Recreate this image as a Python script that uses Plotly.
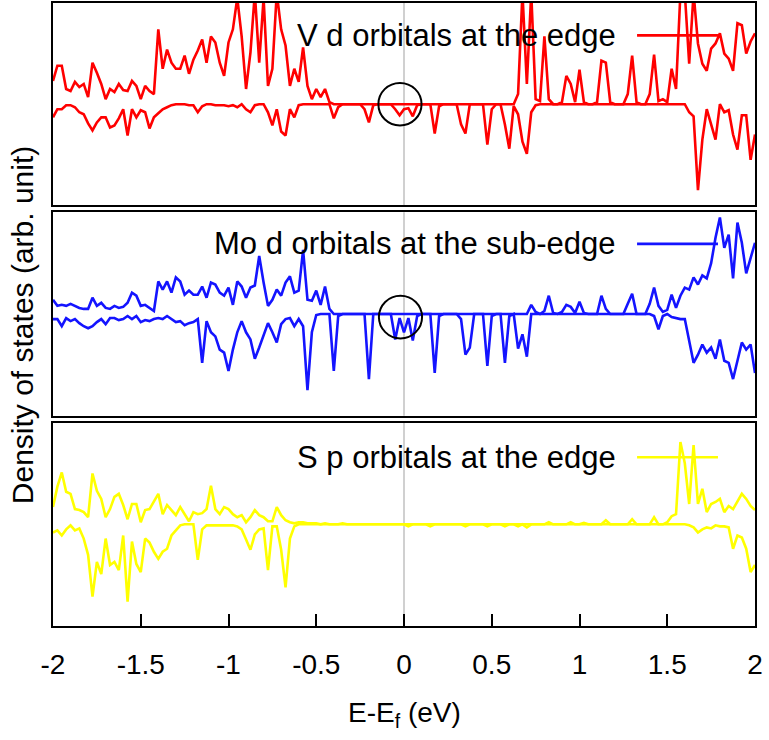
import numpy as np
import plotly.graph_objects as go

# Energy grid (eV), 0.025 eV sampling from -2 to 2
energy = np.round(np.linspace(-2.0, 2.0, 161), 3)

# ---- V d orbitals at the edge (spin up / spin down) ----
v_up = [
    0.23, 0.38, 0.38, 0.15, 0.13, 0.22, 0.17, 0.20, 0.07, 0.41,
    0.31, 0.20, 0.05, 0.15, 0.12, 0.20, 0.14, 0.13, 0.23, 0.18,
    0.05, 0.18, 0.13, 0.10, 0.74, 0.35, 0.54, 0.41, 0.35, 0.35,
    0.48, 0.30, 0.44, 0.53, 0.64, 0.41, 0.67, 0.61, 0.41, 0.28,
    0.61, 0.74, 1.05, 0.67, 0.15, 0.51, 1.10, 0.41, 1.05, 0.18,
    0.35, 1.10, 0.74, 0.58, 0.18, 0.35, 0.22, 0.56, 0.18, 0.05,
    0.15, 0.07, 0.15, 0.02, 0, 0, 0, 0, 0, 0,
    0, 0, 0, 0, 0, 0, 0, 0, 0, 0,
    0, 0, 0, 0, 0, 0, 0, 0, 0, 0,
    0, 0, 0, 0, 0, 0, 0, 0, 0, 0,
    0, 0, 0, 0, 0, 0, 0.10, 1.10, 0.20, 1.10,
    0.05, 0.03, 0.67, 0.05, 0, 0, 0.02, 0.28, 0.20, 0.02,
    0.34, 0.02, 0, 0, 0.02, 0.43, 0.41, 0.02, 0, 0,
    0, 0.10, 0.48, 0.02, 0, 0, 0.10, 0.49, 0.03, 0.05,
    0.02, 0.35, 0.15, 1.10, 1.10, 0.40, 1.10, 0.60, 0.40, 0.33,
    0.55, 0.60, 0.70, 0.50, 0.45, 0.33, 0.80, 0.78, 0.50, 0.62,
    0.70,
]
v_dn = [
    -0.13, -0.05, -0.05, -0.01, -0.01, -0.03, -0.08, -0.10, -0.19, -0.26,
    -0.18, -0.13, -0.13, -0.23, -0.21, -0.14, -0.05, -0.31, -0.05, -0.13,
    -0.06, -0.08, -0.24, -0.13, -0.09, -0.05, -0.03, -0.01, 0, 0,
    0, -0.01, -0.01, -0.08, -0.02, 0, 0, -0.01, -0.01, -0.01,
    -0.02, -0.01, -0.03, 0, -0.05, -0.08, -0.01, 0, 0, -0.08,
    -0.21, -0.05, -0.27, -0.31, -0.05, -0.13, -0.01, 0, 0, 0,
    0, 0, 0, 0, -0.14, -0.03, 0, 0, 0, 0,
    0, -0.05, -0.18, -0.01, 0, 0, 0, 0, -0.05, -0.11,
    -0.05, -0.04, -0.12, -0.01, 0, 0, 0, -0.29, -0.02, 0,
    0, 0, 0, -0.20, -0.29, 0, 0, 0, 0, -0.40,
    -0.05, 0, 0, -0.20, -0.44, -0.02, -0.10, -0.37, -0.49, -0.08,
    -0.01, 0, 0, 0, 0, 0, 0, 0, 0, 0,
    0, 0, 0, 0, 0, 0, 0, 0, 0, 0,
    0, 0, 0, 0, 0, 0, 0, 0, 0, 0,
    0, 0, 0, 0, 0, -0.08, -0.12, -0.85, -0.35, -0.05,
    -0.20, -0.35, 0, -0.08, -0.06, -0.30, -0.45, -0.11, -0.11, -0.55,
    -0.30,
]

# ---- Mo d orbitals at the sub-edge ----
mo_up = [
    0.14, 0.08, 0.09, 0.08, 0.10, 0.08, 0.06, 0.05, 0.05, 0.16,
    0.08, 0.11, 0.06, 0.05, 0.08, 0.06, 0.07, 0.11, 0.21, 0.18,
    0.08, 0.09, 0.06, 0.03, 0.32, 0.24, 0.32, 0.21, 0.36, 0.32,
    0.19, 0.23, 0.19, 0.19, 0.27, 0.16, 0.31, 0.29, 0.21, 0.18,
    0.26, 0.09, 0.32, 0.27, 0.16, 0.26, 0.28, 0.57, 0.31, 0.08,
    0.14, 0.24, 0.18, 0.31, 0.37, 0.21, 0.23, 0.63, 0.14, 0.13,
    0.23, 0.09, 0.27, 0.05, 0, 0, 0, 0, 0, 0,
    0, 0, 0, 0, 0, 0, 0, 0, 0, 0,
    0, 0, 0, 0, 0, 0, 0, 0, 0, 0,
    0, 0, 0, 0, 0, 0, 0, 0, 0, 0,
    0, 0, 0, 0, 0, 0, 0, 0, 0, 0.09,
    0.02, 0, 0.03, 0.18, 0.01, 0, 0.02, 0.09, 0.07, 0.01,
    0.12, 0.01, 0, 0, 0, 0.18, 0.05, 0, 0, 0,
    0, 0.10, 0.20, 0, 0, 0, 0.10, 0.26, 0.08, 0.02,
    0.04, 0.19, 0.06, 0.18, 0.26, 0.24, 0.36, 0.29, 0.38, 0.35,
    0.50, 0.75, 0.95, 0.65, 0.78, 0.35, 0.90, 0.70, 0.40, 0.55,
    0.70,
]
mo_dn = [
    -0.05, -0.05, -0.12, -0.04, -0.07, -0.05, -0.09, -0.12, -0.14, -0.12,
    -0.08, -0.05, -0.10, -0.04, -0.04, -0.06, -0.05, -0.02, -0.05, -0.02,
    -0.08, -0.06, -0.07, -0.05, -0.04, -0.05, -0.02, -0.05, -0.08, -0.07,
    -0.11, -0.09, -0.08, -0.05, -0.48, -0.07, -0.18, -0.22, -0.35, -0.38,
    -0.56, -0.35, -0.18, -0.07, -0.18, -0.25, -0.44, -0.33, -0.22, -0.09,
    -0.18, -0.28, -0.10, -0.05, -0.04, -0.12, -0.05, -0.12, -0.75, -0.18,
    -0.01, 0, 0, 0, -0.56, -0.02, 0, 0, 0, 0,
    0, 0, -0.64, 0, 0, 0, 0, 0, -0.25, -0.04,
    -0.18, -0.04, -0.26, -0.02, 0, 0, 0, -0.58, -0.02, 0,
    0, 0, 0, -0.05, -0.40, -0.33, 0, 0, 0, -0.51,
    -0.02, 0, 0, -0.48, -0.02, 0, -0.34, -0.20, -0.42, 0,
    0, 0, 0, 0, 0, 0, 0, 0, 0, 0,
    0, 0, 0, 0, 0, 0, 0, 0, 0, 0,
    0, 0, 0, 0, 0, 0, 0, -0.02, -0.15, -0.02,
    0, -0.03, -0.04, -0.05, -0.05, -0.28, -0.48, -0.40, -0.30, -0.38,
    -0.33, -0.44, -0.25, -0.46, -0.48, -0.64, -0.46, -0.28, -0.35, -0.30,
    -0.58,
]

# ---- S p orbitals at the edge ----
s_up = [
    0.17, 0.37, 0.51, 0.32, 0.30, 0.15, 0.14, 0.12, 0.07, 0.50,
    0.33, 0.25, 0.07, 0.15, 0.27, 0.30, 0.19, 0.05, 0.20, 0.20,
    0.02, 0.14, 0.15, 0.22, 0.30, 0.10, 0.19, 0.14, 0.09, 0.17,
    0.10, 0.03, 0.12, 0.10, 0.11, 0.15, 0.38, 0.15, 0.10, 0.17,
    0.15, 0.10, 0.07, 0.09, 0.02, 0.07, 0.14, 0.09, 0.07, 0.03,
    0.03, 0.17, 0.09, 0.04, 0.02, 0.01, 0.02, 0.02, 0.01, 0.01,
    0.01, 0, 0.01, 0, 0, 0, 0.01, 0, 0, 0,
    0, 0, 0, 0, 0, 0, 0, 0, 0, 0,
    0, 0, 0, 0, 0, 0, 0, 0, 0, 0,
    0, 0, 0, 0, 0, 0, 0, 0, 0, 0,
    0, 0, 0, 0, 0, 0, 0, 0, 0, 0,
    0, 0, 0, 0.02, 0, 0, 0, 0, 0.02, 0,
    0, 0.015, 0, 0, 0, 0, 0.04, 0, 0, 0,
    0, 0, 0.05, 0, 0, 0, 0, 0.07, 0, 0,
    0.02, 0.08, 0.10, 0.81, 0.60, 0.20, 0.78, 0.20, 0.35, 0.12,
    0.20, 0.22, 0.25, 0.12, 0.18, 0.15, 0.22, 0.30, 0.25, 0.18,
    0.14,
]
s_dn = [
    -0.08, -0.06, -0.11, -0.05, -0.01, -0.06, -0.04, -0.14, -0.30, -0.71,
    -0.37, -0.49, -0.14, -0.40, -0.37, -0.45, -0.11, -0.76, -0.17, -0.39,
    -0.47, -0.14, -0.18, -0.27, -0.34, -0.27, -0.24, -0.11, -0.06, -0.01,
    0, 0, 0, -0.35, -0.05, -0.01, -0.01, -0.01, -0.01, -0.01,
    -0.01, -0.01, -0.02, -0.05, -0.15, -0.25, -0.10, -0.05, -0.04, -0.45,
    -0.02, -0.02, -0.25, -0.62, -0.14, -0.02, 0, 0, 0, 0,
    0, 0, 0, 0, 0, 0, 0, 0, 0, 0,
    0, 0, 0, 0, 0, 0, 0, 0, 0, 0,
    0, -0.02, 0, 0, 0, 0, -0.02, 0, 0, 0,
    0, 0, 0, 0, -0.02, 0, 0, 0, 0, -0.02,
    0, 0, 0, -0.02, 0, 0, -0.02, 0, -0.03, 0,
    0, 0, 0, 0, 0, 0, 0, 0, 0, 0,
    0, 0, 0, 0, 0, 0, 0, 0, 0, 0,
    0, 0, 0, 0, 0, 0, 0, 0, 0, 0,
    0, 0, 0, 0, 0, -0.01, -0.03, -0.08, -0.05, -0.03,
    -0.04, -0.01, -0.02, -0.02, -0.03, -0.24, -0.11, -0.13, -0.24, -0.47,
    -0.40,
]

labels = ["V d orbitals at the edge", "Mo d orbitals at the sub-edge", "S p orbitals at the edge"]
colors = ["#ff0000", "#1414ff", "#ffff00"]
series = [(v_up, v_dn), (mo_up, mo_dn), (s_up, s_dn)]
x_ticks = [-2, -1.5, -1, -0.5, 0, 0.5, 1, 1.5, 2]
tick_text = ["-2", "-1.5", "-1", "-0.5", "0", "0.5", "1", "1.5", "2"]

for a, b in series:
    assert len(a) == len(energy) and len(b) == len(energy)

# layout geometry
W, H = 769, 740
ML, MR, MT, MB = 53, 14, 1, 114
domains = [[0.6752, 1.0], [0.3376, 0.664], [0.0, 0.3264]]
legend_y = [0.68, 0.69, 0.66]
circles = {0: (-0.023, 0.0), 1: (-0.02, -0.03)}
circle_rx, circle_ry = 0.123, 0.21

fig = go.Figure()
font_family = "Liberation Sans, Arial, Helvetica, sans-serif"

for k, ((up, dn), col) in enumerate(zip(series, colors)):
    xa = "x" if k == 0 else f"x{k+1}"
    ya = "y" if k == 0 else f"y{k+1}"
    for vals in (up, dn):
        fig.add_trace(go.Scatter(x=energy, y=vals, mode="lines",
                                 line=dict(color=col, width=2.6),
                                 xaxis=xa, yaxis=ya, showlegend=False,
                                 hoverinfo="skip"))
    # Fermi level line
    fig.add_shape(type="line", x0=0, x1=0, y0=0, y1=1, xref=xa, yref=f"{ya} domain",
                  line=dict(color="#c0c0c0", width=1.5), layer="below")
    # legend: text + line sample
    fig.add_annotation(x=1.22, y=legend_y[k], xref=xa, yref=ya, text=labels[k],
                       showarrow=False, xanchor="right", yanchor="middle",
                       font=dict(size=31, color="black", family=font_family))
    fig.add_shape(type="line", x0=1.328, x1=1.789, y0=legend_y[k], y1=legend_y[k],
                  xref=xa, yref=ya, line=dict(color=col, width=2.6))
    if k in circles:
        cx, cy = circles[k]
        fig.add_shape(type="circle", x0=cx - circle_rx, x1=cx + circle_rx,
                      y0=cy - circle_ry, y1=cy + circle_ry, xref=xa, yref=ya,
                      line=dict(color="black", width=2))

axis_common = dict(showline=True, linecolor="black", linewidth=2, mirror=True,
                   showgrid=False, zeroline=False)
layout = dict(
    width=W, height=H, margin=dict(l=ML, r=MR, t=MT, b=MB),
    plot_bgcolor="white", paper_bgcolor="white", showlegend=False,
    font=dict(family=font_family, color="black"),
)
for k in range(3):
    xn = "xaxis" if k == 0 else f"xaxis{k+1}"
    yn = "yaxis" if k == 0 else f"yaxis{k+1}"
    xa_anchor = "y" if k == 0 else f"y{k+1}"
    ya_anchor = "x" if k == 0 else f"x{k+1}"
    xd = dict(axis_common, range=[-2, 2], anchor=xa_anchor, domain=[0, 1])
    if k == 2:
        xd.update(tickmode="array", tickvals=x_ticks, ticktext=tick_text,
                  ticks="inside", ticklen=12, tickwidth=1.5, tickcolor="black",
                  tickfont=dict(size=28, family=font_family, color="black"),
                  ticklabelstandoff=12)
    else:
        xd.update(showticklabels=False, ticks="")
    layout[xn] = xd
    layout[yn] = dict(axis_common, range=[-1, 1], domain=domains[k], anchor=ya_anchor,
                      showticklabels=False, ticks="")

fig.update_layout(**layout)

# axis titles
fig.add_annotation(x=0.5, y=-0.1424, xref="paper", yref="paper",
                   text="E-E<sub>f</sub> (eV)", showarrow=False,
                   xanchor="center", yanchor="middle",
                   font=dict(size=28, family=font_family, color="black"))
fig.add_annotation(x=-0.044, y=0.483, xref="paper", yref="paper",
                   text="Density of states (arb. unit)", showarrow=False,
                   textangle=-90, xanchor="center", yanchor="middle",
                   font=dict(size=30, family=font_family, color="black"))

fig.write_html("out.html")
